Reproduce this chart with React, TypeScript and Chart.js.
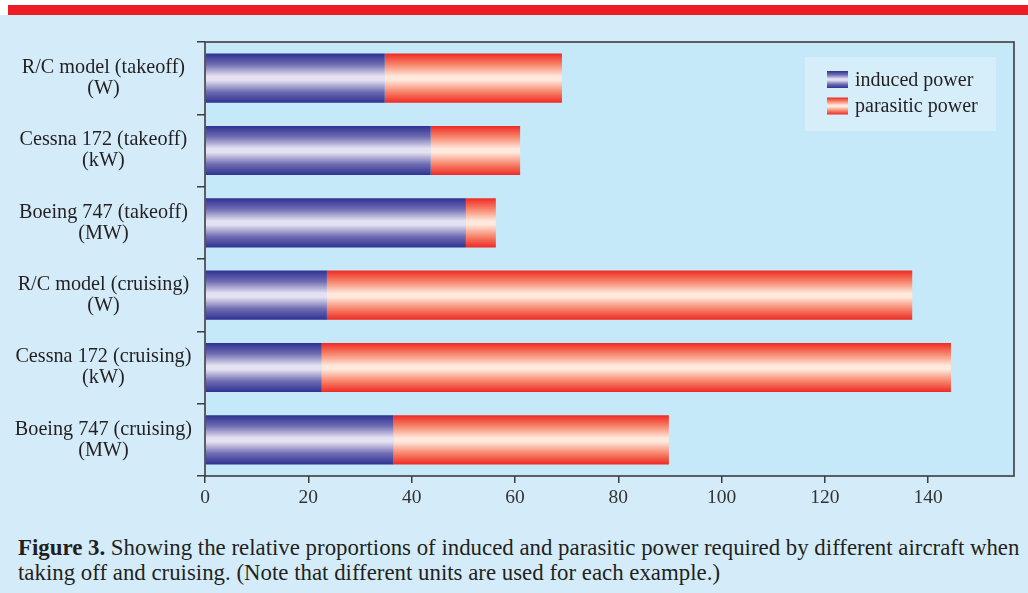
import React, { useEffect, useRef } from "react";
import { Chart, registerables } from "chart.js";

Chart.register(...registerables);

const categories: string[][] = [
  ["R/C model (takeoff)", "(W)"],
  ["Cessna 172 (takeoff)", "(kW)"],
  ["Boeing 747 (takeoff)", "(MW)"],
  ["R/C model (cruising)", "(W)"],
  ["Cessna 172 (cruising)", "(kW)"],
  ["Boeing 747 (cruising)", "(MW)"],
];
const inducedPower: number[] = [34.8, 43.7, 50.5, 23.6, 22.6, 36.5];
const parasiticPower: number[] = [34.3, 17.3, 5.8, 113.3, 121.8, 53.3];
const seriesNames: string[] = ["induced power", "parasitic power"];
const xTicks: number[] = [0, 20, 40, 60, 80, 100, 120, 140];

const FONT = "'Liberation Serif', 'Times New Roman', serif";
const TEXT = "#231f20";
const BAR_PCT = 0.68;

const blueStops: [number, string][] = [
  [0, "#2e3192"],
  [0.22, "#6f6cb2"],
  [0.46, "#e4e1f2"],
  [0.54, "#e4e1f2"],
  [0.78, "#6f6cb2"],
  [1, "#2e3192"],
];
const redStops: [number, string][] = [
  [0, "#ee2a24"],
  [0.22, "#f7836a"],
  [0.46, "#ffe8dc"],
  [0.54, "#ffe8dc"],
  [0.78, "#f7836a"],
  [1, "#ee2a24"],
];

function makeGrad(ctx: CanvasRenderingContext2D, top: number, bottom: number, stops: [number, string][]) {
  const g = ctx.createLinearGradient(0, top, 0, bottom);
  stops.forEach(([o, c]) => g.addColorStop(o, c));
  return g;
}

function barColor(stops: [number, string][]) {
  return (c: any) => {
    if (c.type !== "data") return stops[0][1];
    const chart = c.chart;
    const y = chart.scales && chart.scales.y;
    if (!y || !chart.chartArea) return stops[0][1];
    const center = y.getPixelForValue(c.dataIndex);
    const h = (y.height / categories.length) * BAR_PCT;
    return makeGrad(chart.ctx, center - h / 2, center + h / 2, stops);
  };
}

const framePlugin = {
  id: "frame",
  beforeDraw(chart: any) {
    const { ctx, chartArea: a } = chart;
    ctx.save();
    ctx.fillStyle = "#c6e9f9";
    ctx.fillRect(a.left, a.top, a.right - a.left, a.bottom - a.top);
    ctx.restore();
  },
  afterDraw(chart: any) {
    const { ctx, chartArea: a } = chart;
    ctx.save();
    ctx.strokeStyle = "#3d3d3d";
    ctx.lineWidth = 1.6;
    ctx.strokeRect(a.left, a.top, a.right - a.left, a.bottom - a.top);
    // legend
    const lx = a.right - 209;
    const ly = a.top + 15;
    ctx.fillStyle = "#d5eefa";
    ctx.fillRect(lx, ly, 191, 74);
    const stopsList = [blueStops, redStops];
    const rows = [ly + 22.5, ly + 49];
    ctx.font = `20px ${FONT}`;
    ctx.textBaseline = "middle";
    ctx.textAlign = "left";
    seriesNames.forEach((name, i) => {
      const cy = rows[i];
      ctx.fillStyle = makeGrad(ctx, cy - 8.5, cy + 8.5, stopsList[i]);
      ctx.fillRect(lx + 22, cy - 8.5, 21, 17);
      ctx.fillStyle = TEXT;
      ctx.fillText(name, lx + 50, cy + 1);
    });
    ctx.restore();
  },
};

export default function App() {
  const ref = useRef<HTMLCanvasElement | null>(null);

  useEffect(() => {
    if (!ref.current) return;
    const chart = new Chart(ref.current, {
      type: "bar",
      data: {
        labels: categories,
        datasets: [
          {
            label: seriesNames[0],
            data: inducedPower,
            backgroundColor: barColor(blueStops),
            borderWidth: 0,
            barPercentage: BAR_PCT,
            categoryPercentage: 1,
          },
          {
            label: seriesNames[1],
            data: parasiticPower,
            backgroundColor: barColor(redStops),
            borderWidth: 0,
            barPercentage: BAR_PCT,
            categoryPercentage: 1,
          },
        ],
      },
      options: {
        indexAxis: "y",
        responsive: false,
        animation: false,
        devicePixelRatio: 1,
        layout: { padding: { top: 42, right: 14, left: 0, bottom: 0 } },
        plugins: {
          legend: { display: false },
          tooltip: { enabled: false },
        },
        scales: {
          x: {
            stacked: true,
            min: 0,
            max: 156.6,
            afterBuildTicks: (s: any) => {
              s.ticks = xTicks.map((v) => ({ value: v }));
            },
            afterFit: (s: any) => {
              s.height = 44;
            },
            border: { display: false },
            grid: {
              drawOnChartArea: false,
              drawTicks: true,
              tickLength: 7,
              color: "#3d3d3d",
              lineWidth: 1.5,
            },
            ticks: {
              padding: 3,
              color: "#333",
              font: { family: FONT, size: 19.5 },
            },
          },
          y: {
            stacked: true,
            afterFit: (s: any) => {
              s.width = 205;
            },
            border: { display: false },
            grid: {
              offset: true,
              drawOnChartArea: false,
              drawTicks: true,
              tickLength: 8,
              color: "#3d3d3d",
              lineWidth: 1.5,
            },
            ticks: {
              crossAlign: "center",
              padding: 5,
              color: TEXT,
              font: { family: FONT, size: 20.2, lineHeight: 1.03 },
            },
          },
        },
      },
      plugins: [framePlugin],
    } as any);
    return () => chart.destroy();
  }, []);

  return (
    <div
      style={{
        position: "absolute",
        left: 0,
        top: 0,
        width: 1028,
        height: 593,
        background: "#d4ecf9",
        overflow: "hidden",
        fontFamily: FONT,
      }}
    >
      <div style={{ position: "absolute", left: 0, top: 0, width: 1028, height: 15, background: "#ffffff" }} />
      <div style={{ position: "absolute", left: 8, top: 5, width: 1020, height: 10, background: "#ed1c24" }} />
      <canvas
        ref={ref}
        width={1028}
        height={520}
        style={{ position: "absolute", left: 0, top: 0, width: 1028, height: 520 }}
      />
      <div
        style={{
          position: "absolute",
          left: 18,
          top: 535,
          fontSize: 22.85,
          lineHeight: "25px",
          color: TEXT,
          whiteSpace: "nowrap",
        }}
      >
        <b>Figure 3.</b> Showing the relative proportions of induced and parasitic power required by different aircraft when
        <br />
        taking off and cruising. (Note that different units are used for each example.)
      </div>
    </div>
  );
}
